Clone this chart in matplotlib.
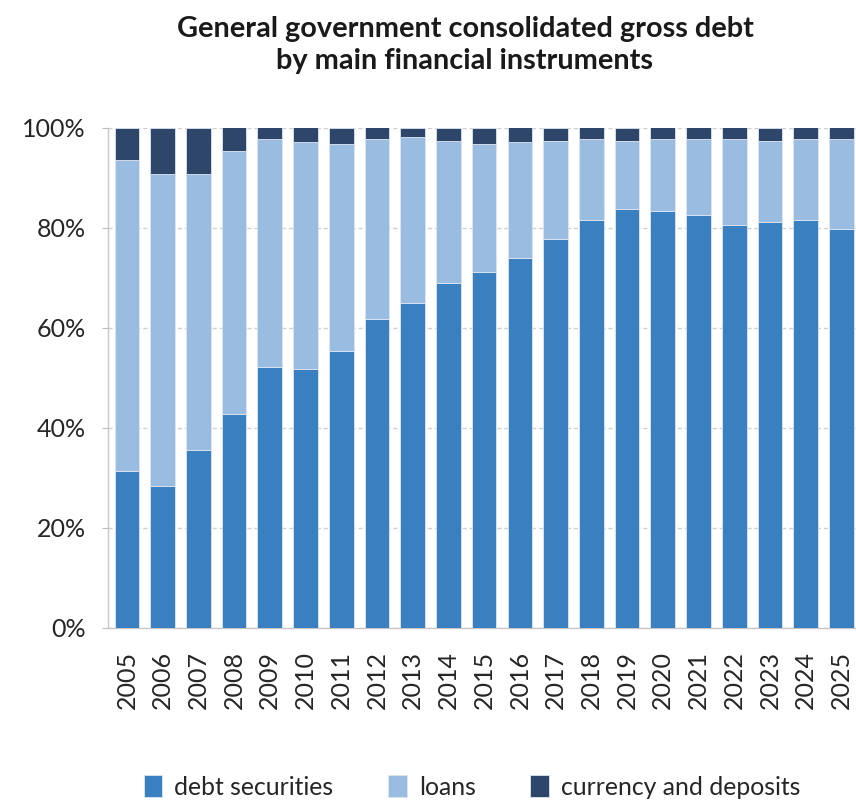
import matplotlib
matplotlib.use("Agg")
import matplotlib.pyplot as plt
import numpy as np

years = [str(y) for y in range(2005, 2026)]

# shares of total debt, in percent
debt_securities = [31.3, 28.3, 35.5, 42.7, 52.2, 51.8, 55.4, 61.8, 65.0, 69.0, 71.1,
                   74.0, 77.7, 81.5, 83.7, 83.3, 82.6, 80.5, 81.2, 81.5, 79.7]
loans_and_securities = [93.5, 90.7, 90.7, 95.3, 97.8, 97.1, 96.7, 97.8, 98.2, 97.4, 96.7,
                        97.1, 97.4, 97.8, 97.4, 97.8, 97.8, 97.8, 97.4, 97.8, 97.8]
loans = [round(a - b, 1) for a, b in zip(loans_and_securities, debt_securities)]
currency_deposits = [round(100 - a, 1) for a in loans_and_securities]

c_debt = "#3A7FBF"
c_loans = "#9ABCE0"
c_curr = "#2D466A"

plt.rcParams["font.family"] = ["Lato", "DejaVu Sans"]

fig = plt.figure(figsize=(8.56, 8.01), dpi=100)
ax = fig.add_axes([108.3 / 856, 1 - 627.5 / 801, (860 - 108.3) / 856, 500 / 801])

x = np.arange(len(years))
w = 0.69
edge = dict(edgecolor="#DCE6F2", linewidth=0.6)
ax.bar(x, debt_securities, w, color=c_debt, label="debt securities", zorder=3, **edge)
ax.bar(x, loans, w, bottom=debt_securities, color=c_loans, label="loans", zorder=3, **edge)
ax.bar(x, currency_deposits, w, bottom=loans_and_securities, color=c_curr,
       label="currency and deposits", zorder=3, **edge)

ax.set_xlim(-0.52, len(years) - 0.48)
ax.set_ylim(0, 100)
ax.set_yticks(np.arange(0, 101, 20))
ax.set_yticklabels([f"{v}%" for v in range(0, 101, 20)], fontsize=18, color="#262626")
ax.set_xticks(x)
ax.set_xticklabels(years, rotation=90, fontsize=18, color="#262626")
ax.tick_params(axis="x", length=0, pad=17)
ax.tick_params(axis="y", length=4, color="#BFBFBF", pad=12)

ax.yaxis.grid(True, color="#D0D0D0", linestyle=(0, (3, 2)), linewidth=1.0, zorder=0)
for s in ["top", "right"]:
    ax.spines[s].set_visible(False)
for s in ["left", "bottom"]:
    ax.spines[s].set_color("#C8C8C8")
    ax.spines[s].set_linewidth(1.0)

fig.text(465 / 856, 1 - 45 / 801,
         "General government consolidated gross debt\nby main financial instruments",
         ha="center", va="center", fontsize=20.8, fontweight="bold",
         color="#1A1A1A", linespacing=1.3)

leg = fig.legend(loc="center", bbox_to_anchor=(472 / 856, 1 - 787 / 801), ncol=3,
                 frameon=False, fontsize=17.8, handlelength=0.75, handleheight=1.0,
                 handletextpad=0.5, columnspacing=2.2)
for t in leg.get_texts():
    t.set_color("#262626")

fig.savefig("out.png", dpi=100)
